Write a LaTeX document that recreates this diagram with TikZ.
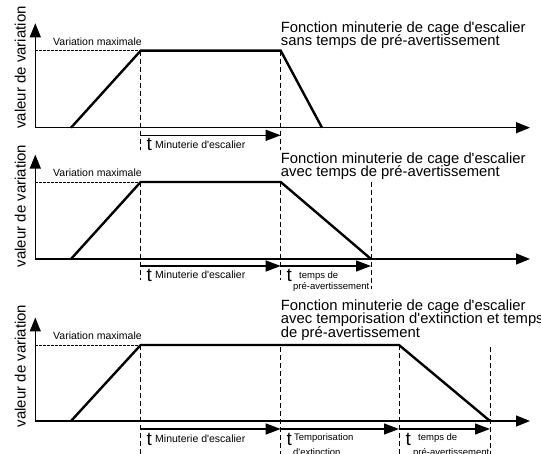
\documentclass[tikz,border=0pt]{standalone}
\usepackage{fontspec}
\setmainfont{Liberation Sans}[Ligatures=TeXOff]
\usetikzlibrary{arrows.meta}
\begin{document}
\begin{tikzpicture}[x=1pt,y=-1pt,
 axisarrow/.style={line width=1.2pt,-{Triangle[length=14pt,width=11pt]}},
 signal/.style={line width=2.4pt, line join=miter},
 guide/.style={line width=0.9pt, dash pattern=on 5pt off 3pt},
 maxline/.style={line width=0.8pt, dash pattern=on 2.5pt off 1.5pt},
 tarrow/.style={line width=1.2pt,-{Triangle[length=15pt,width=11pt]}},
 titletxt/.style={font=\fontsize{14.8}{14.8}\selectfont, anchor=base west, inner sep=0pt},
 ylab/.style={font=\fontsize{15}{15}\selectfont, rotate=90, anchor=base, inner sep=0pt},
 smalltxt/.style={font=\fontsize{10.5}{10.5}\selectfont, anchor=base west, inner sep=0pt},
 tinytxt/.style={font=\fontsize{9.5}{9.5}\selectfont, anchor=base west, inner sep=0pt},
 tlab/.style={font=\fontsize{19}{19}\selectfont, anchor=base west, inner sep=0pt},
]
\useasboundingbox (0,0) rectangle (541,454);
\fill[white] (0,0) rectangle (541,454);

% ---------------- Panel 1 ----------------
\coordinate (o1) at (35.3,127.7);
\coordinate (y1) at (35.3,23.3);
\coordinate (x1) at (530,127.7);
\coordinate (s1a) at (71,127.7);
\coordinate (s1b) at (140.7,50.7);
\coordinate (s1c) at (280.7,50.7);
\coordinate (s1d) at (322,127.7);
\coordinate (m1) at (35.3,50.7);
\coordinate (g1a) at (140.7,150);
\coordinate (g1b) at (280.7,150);
\coordinate (t1a) at (140.7,135.3);
\coordinate (t1b) at (280.7,135.3);
\draw[maxline] (m1) -- (s1b);
\draw[guide] (s1b) -- (g1a);
\draw[guide] (s1c) -- (g1b);
\draw[axisarrow] (o1) -- (y1);
\draw[axisarrow] (o1) -- (x1);
\draw[signal] (s1a) -- (s1b) -- (s1c) -- (s1d);
\draw[tarrow] (t1a) -- (t1b);
\node[ylab] (yl1) at (25.5,67.5) {valeur de variation};
\node[smalltxt] (vm1) at (53,45.5) {Variation maximale};
\node[titletxt] (ti1a) at (280.7,32.5) {Fonction minuterie de cage d'escalier};
\node[titletxt] (ti1b) at (280.7,45.5) {sans temps de pré-avertissement};
\node[tlab] (tt1) at (146.5,151) {t};
\node[smalltxt] (tm1) at (155,148.5) {Minuterie d'escalier};

% ---------------- Panel 2 ----------------
\coordinate (o2) at (35.3,259);
\coordinate (y2) at (35.3,154.6);
\coordinate (x2) at (530,259);
\coordinate (s2a) at (71,259);
\coordinate (s2b) at (140.7,182);
\coordinate (s2c) at (280.7,182);
\coordinate (s2d) at (371,259);
\coordinate (m2) at (35.3,182);
\coordinate (g2a) at (140.7,280);
\coordinate (g2b) at (280.7,280);
\coordinate (g2ct) at (371,182);
\coordinate (g2c) at (371,289);
\coordinate (t2a) at (140.7,266);
\coordinate (t2b) at (280.7,266);
\coordinate (t2c) at (371,266);
\draw[maxline] (m2) -- (s2b);
\draw[guide] (s2b) -- (g2a);
\draw[guide] (s2c) -- (g2b);
\draw[guide] (g2ct) -- (g2c);
\draw[axisarrow] (o2) -- (y2);
\draw[axisarrow] (o2) -- (x2);
\draw[signal] (s2a) -- (s2b) -- (s2c) -- (s2d);
\draw[tarrow] (t2a) -- (t2b);
\draw[tarrow] (t2b) -- (t2c);
\node[ylab] (yl2) at (25.5,206) {valeur de variation};
\node[smalltxt] (vm2) at (53,177) {Variation maximale};
\node[titletxt] (ti2a) at (280.7,164) {Fonction minuterie de cage d'escalier};
\node[titletxt] (ti2b) at (280.7,177) {avec temps de pré-avertissement};
\node[tlab] (tt2a) at (146.5,281.5) {t};
\node[smalltxt] (tm2) at (155,279) {Minuterie d'escalier};
\node[tlab] (tt2b) at (286.5,281.5) {t};
\node[tinytxt] (tp2a) at (299,278.5) {temps de};
\node[tinytxt] (tp2b) at (293,290) {pré-avertissement};

% ---------------- Panel 3 ----------------
\coordinate (o3) at (35.3,421);
\coordinate (y3) at (35.3,317.5);
\coordinate (x3) at (530,421);
\coordinate (s3a) at (71,421);
\coordinate (s3b) at (140.7,345);
\coordinate (s3c) at (399,345);
\coordinate (s3d) at (490,421);
\coordinate (m3) at (35.3,345);
\coordinate (g3a) at (140.7,456);
\coordinate (g3bt) at (280.7,347);
\coordinate (g3b) at (280.7,456);
\coordinate (g3c) at (399,456);
\coordinate (g3dt) at (490,347);
\coordinate (g3d) at (490,456);
\coordinate (t3a) at (140.7,429);
\coordinate (t3b) at (280.7,429);
\coordinate (t3c) at (399,429);
\coordinate (t3d) at (490,429);
\draw[maxline] (m3) -- (s3b);
\draw[guide] (s3b) -- (g3a);
\draw[guide] (g3bt) -- (g3b);
\draw[guide] (s3c) -- (g3c);
\draw[guide] (g3dt) -- (g3d);
\draw[axisarrow] (o3) -- (y3);
\draw[axisarrow] (o3) -- (x3);
\draw[signal] (s3a) -- (s3b) -- (s3c) -- (s3d);
\draw[tarrow] (t3a) -- (t3b);
\draw[tarrow] (t3b) -- (t3c);
\draw[tarrow] (t3c) -- (t3d);
\node[ylab] (yl3) at (25.5,366) {valeur de variation};
\node[smalltxt] (vm3) at (53,339.5) {Variation maximale};
\node[titletxt] (ti3a) at (280.7,310.7) {Fonction minuterie de cage d'escalier};
\node[titletxt] (ti3b) at (280.7,324) {avec temporisation d'extinction et temps};
\node[titletxt] (ti3c) at (280.7,337.3) {de pré-avertissement};
\node[tlab] (tt3a) at (146.5,445) {t};
\node[smalltxt] (tm3) at (155,442.5) {Minuterie d'escalier};
\node[tlab] (tt3b) at (286.5,445) {t};
\node[tinytxt] (tx3a) at (294,440) {Temporisation};
\node[tinytxt] (tx3b) at (293,455.5) {d'extinction};
\node[tlab] (tt3c) at (405.5,445) {t};
\node[tinytxt] (tp3a) at (418,440) {temps de};
\node[tinytxt] (tp3b) at (413,455.5) {pré-avertissement};
\end{tikzpicture}
\end{document}
